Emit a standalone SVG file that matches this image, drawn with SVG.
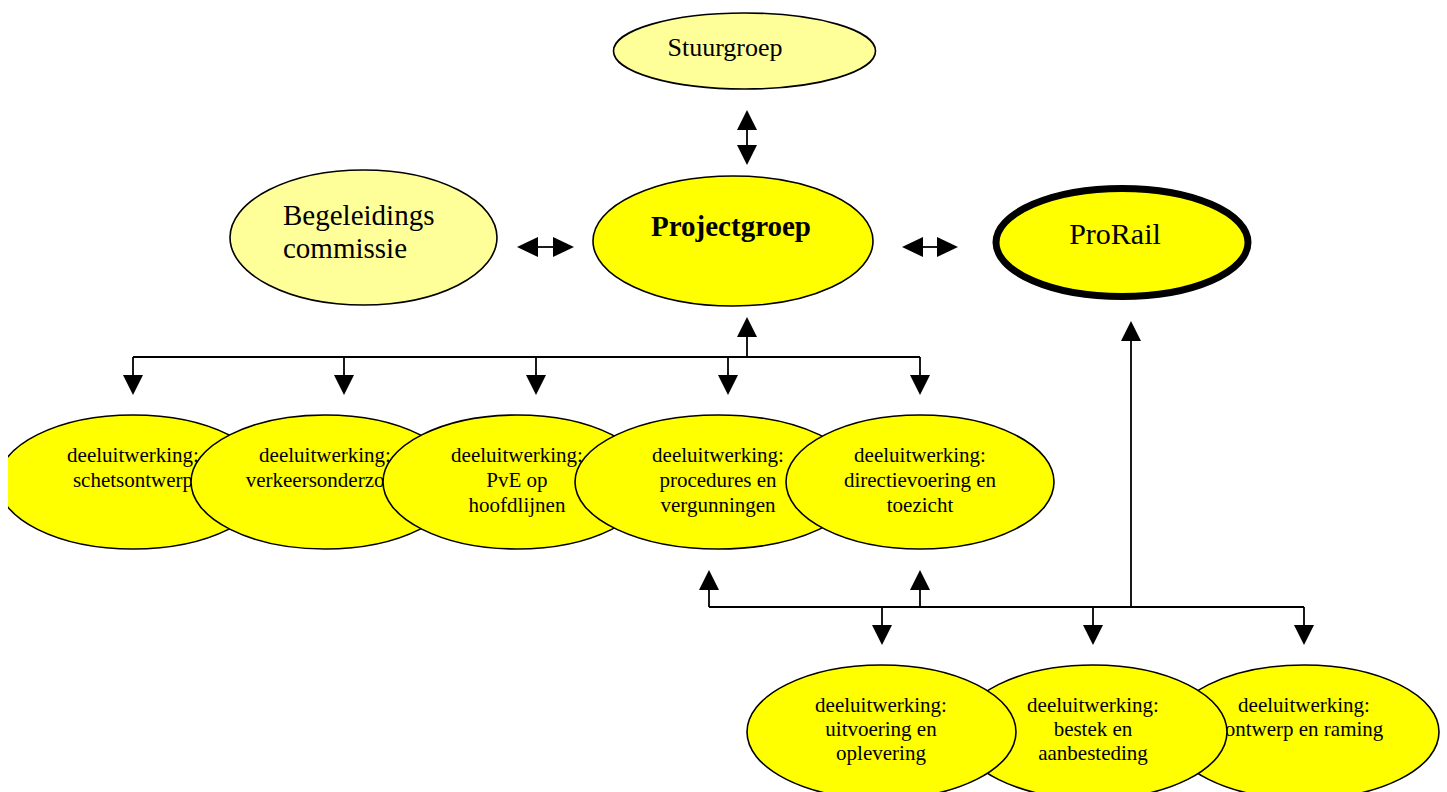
<svg xmlns="http://www.w3.org/2000/svg" width="1447" height="792" viewBox="0 0 1447 792">
<style>
.n{stroke:#000;stroke-width:1.6}
.pale{fill:#FFFF99}
.yel{fill:#FFFF00}
.t{font-family:"Liberation Serif","Times New Roman",serif;fill:#000}
.s21{font-size:21px;text-anchor:middle}
.ln{stroke:#000;stroke-width:1.8;fill:none}
.ah{fill:#000}
</style>
<defs>
<clipPath id="clipL"><rect x="8" y="0" width="1439" height="792"/></clipPath>
</defs>
<rect width="1447" height="792" fill="#fff"/>

<g id="stuurgroep">
<ellipse class="n pale" cx="744.5" cy="51" rx="131" ry="38"/>
<text class="t" x="725" y="56" font-size="26" text-anchor="middle">Stuurgroep</text>
</g>

<g id="begeleidingscommissie">
<ellipse class="n pale" cx="363.5" cy="237.5" rx="133.5" ry="67.5"/>
<text class="t" x="283" y="225" font-size="29">Begeleidings</text>
<text class="t" x="283" y="258" font-size="29">commissie</text>
</g>

<g id="projectgroep">
<ellipse class="n yel" cx="733" cy="241" rx="140" ry="65"/>
<text class="t" x="731" y="236" font-size="29" font-weight="bold" text-anchor="middle">Projectgroep</text>
</g>

<g id="prorail">
<ellipse cx="1122" cy="242.5" rx="126" ry="54" fill="#FFFF00" stroke="#000" stroke-width="7"/>
<text class="t" x="1115" y="244" font-size="30" text-anchor="middle">ProRail</text>
</g>

<g id="schetsontwerp" clip-path="url(#clipL)">
<ellipse class="n yel" cx="133" cy="482" rx="135" ry="67"/>
<text class="t s21" x="133" y="462">deeluitwerking:</text>
<text class="t s21" x="133" y="487">schetsontwerp</text>
</g>

<g id="verkeersonderzoek">
<ellipse class="n yel" cx="325" cy="482" rx="134" ry="67"/>
<text class="t s21" x="325" y="462">deeluitwerking:</text>
<text class="t s21" x="325" y="487">verkeersonderzoek</text>
</g>

<g id="pve">
<ellipse class="n yel" cx="517" cy="482" rx="134" ry="67"/>
<text class="t s21" x="517" y="462">deeluitwerking:</text>
<text class="t s21" x="517" y="487">PvE op</text>
<text class="t s21" x="517" y="512">hoofdlijnen</text>
</g>

<g id="procedures">
<ellipse class="n yel" cx="718" cy="482" rx="143" ry="67"/>
<text class="t s21" x="718" y="462">deeluitwerking:</text>
<text class="t s21" x="718" y="487">procedures en</text>
<text class="t s21" x="718" y="512">vergunningen</text>
</g>

<g id="directievoering">
<ellipse class="n yel" cx="920" cy="482" rx="134" ry="67"/>
<text class="t s21" x="920" y="462">deeluitwerking:</text>
<text class="t s21" x="920" y="487">directievoering en</text>
<text class="t s21" x="920" y="512">toezicht</text>
</g>

<g id="ontwerp">
<ellipse class="n yel" cx="1304" cy="732" rx="135" ry="67"/>
<text class="t s21" x="1304" y="712">deeluitwerking:</text>
<text class="t s21" x="1304" y="736">ontwerp en raming</text>
</g>

<g id="bestek">
<ellipse class="n yel" cx="1093" cy="732" rx="134" ry="67"/>
<text class="t s21" x="1093" y="712">deeluitwerking:</text>
<text class="t s21" x="1093" y="736">bestek en</text>
<text class="t s21" x="1093" y="760">aanbesteding</text>
</g>

<g id="uitvoering">
<ellipse class="n yel" cx="881.5" cy="732" rx="134.5" ry="67"/>
<text class="t s21" x="881" y="712">deeluitwerking:</text>
<text class="t s21" x="881" y="736">uitvoering en</text>
<text class="t s21" x="881" y="760">oplevering</text>
</g>

<g id="connectors">
<!-- Stuurgroep <-> Projectgroep -->
<line class="ln" x1="747" y1="128" x2="747" y2="147"/>
<polygon class="ah" points="747,110 737,130 757,130"/>
<polygon class="ah" points="747,165 737,145 757,145"/>
<!-- Begeleidings <-> Projectgroep -->
<line class="ln" x1="536" y1="247" x2="555" y2="247"/>
<polygon class="ah" points="517,247 538,237 538,257"/>
<polygon class="ah" points="574,247 553,237 553,257"/>
<!-- Projectgroep <-> ProRail -->
<line class="ln" x1="921" y1="247" x2="940" y2="247"/>
<polygon class="ah" points="902,247 923,237 923,257"/>
<polygon class="ah" points="958,247 937,237 937,257"/>
<!-- Projectgroep tree -->
<polyline class="ln" points="747,335 747,357"/>
<polygon class="ah" points="747,317 737,337 757,337"/>
<line class="ln" x1="133" y1="357" x2="920" y2="357"/>
<line class="ln" x1="133" y1="357" x2="133" y2="377"/>
<line class="ln" x1="344" y1="357" x2="344" y2="377"/>
<line class="ln" x1="536" y1="357" x2="536" y2="377"/>
<line class="ln" x1="728" y1="357" x2="728" y2="377"/>
<line class="ln" x1="920" y1="357" x2="920" y2="377"/>
<polygon class="ah" points="133,395 123,375 143,375"/>
<polygon class="ah" points="344,395 334,375 354,375"/>
<polygon class="ah" points="536,395 526,375 546,375"/>
<polygon class="ah" points="728,395 718,375 738,375"/>
<polygon class="ah" points="920,395 910,375 930,375"/>
<!-- bottom tree -->
<line class="ln" x1="709" y1="607" x2="1304" y2="607"/>
<line class="ln" x1="709" y1="607" x2="709" y2="587"/>
<line class="ln" x1="920" y1="607" x2="920" y2="587"/>
<polygon class="ah" points="709,570 699,590 719,590"/>
<polygon class="ah" points="920,570 910,590 930,590"/>
<line class="ln" x1="882" y1="607" x2="882" y2="627"/>
<line class="ln" x1="1093" y1="607" x2="1093" y2="627"/>
<line class="ln" x1="1304" y1="607" x2="1304" y2="627"/>
<polygon class="ah" points="882,645 872,625 892,625"/>
<polygon class="ah" points="1093,645 1083,625 1103,625"/>
<polygon class="ah" points="1304,645 1294,625 1314,625"/>
<line class="ln" x1="1131" y1="607" x2="1131" y2="338"/>
<polygon class="ah" points="1131,321 1121,341 1141,341"/>
</g>
</svg>
